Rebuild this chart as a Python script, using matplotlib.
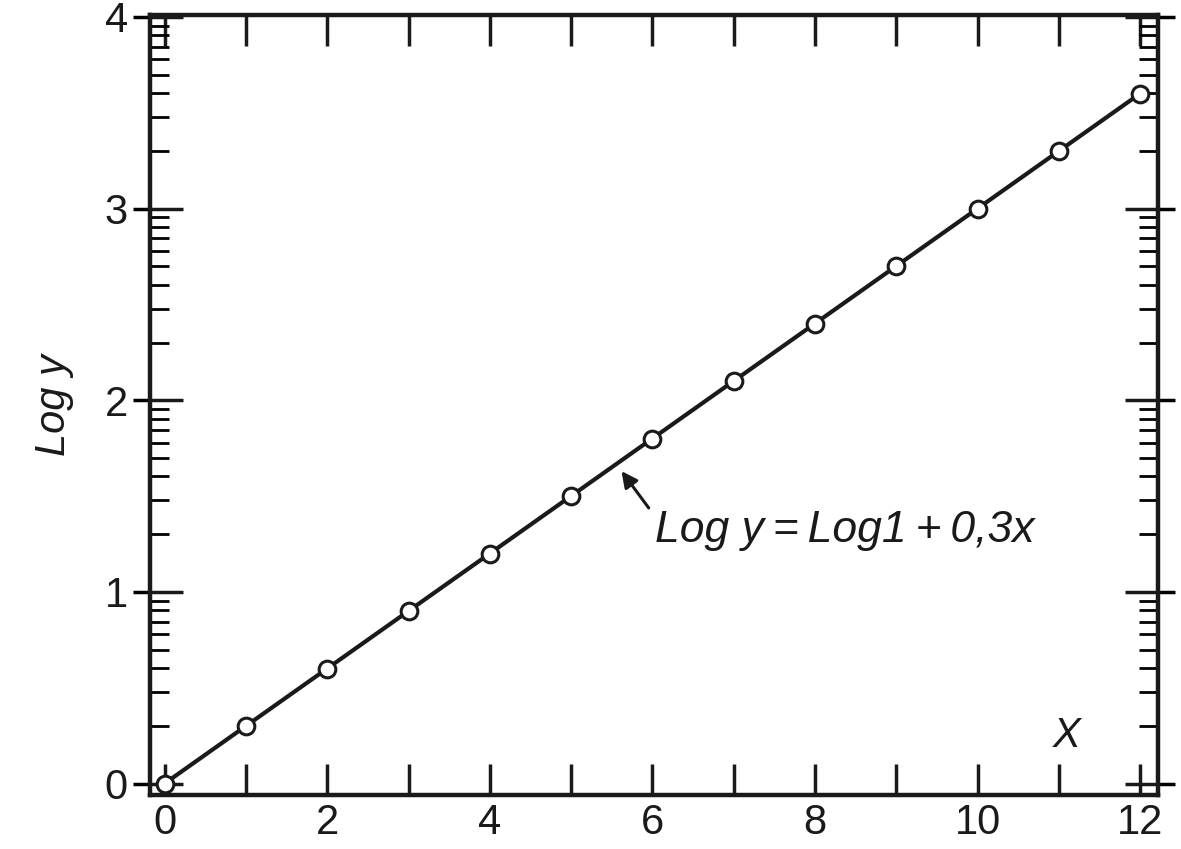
import numpy as np
import matplotlib
matplotlib.use("Agg")
import matplotlib.pyplot as plt
from matplotlib.ticker import FixedLocator, FuncFormatter

plt.rcParams["font.family"] = ["Liberation Sans", "DejaVu Sans"]

# datos
x_vals = [0, 1, 2, 3, 4, 5, 6, 7, 8, 9, 10, 11, 12]
logy_vals = [0.0, 0.3, 0.6, 0.9, 1.2, 1.5, 1.8, 2.1, 2.4, 2.7, 3.0, 3.3, 3.6]
y_ticks = [0, 1, 2, 3, 4]
x_ticks = list(range(13))
ecuacion = "Log y\u2009=\u2009Log1\u2009+\u20090,3x"

fig = plt.figure(figsize=(11.81, 8.49), dpi=100)
ax = fig.add_axes([150 / 1181, 1 - 795 / 849, 1008 / 1181, 780 / 849])

ax.plot(x_vals, logy_vals, color="#1a1a1a", lw=3.0, marker="o", ms=12,
        mfc="white", mec="#1a1a1a", mew=2.2, zorder=3, clip_on=False)

ax.set_xlim(-0.18, 12.22)
ax.set_ylim(-0.06, 4.01)

for s in ax.spines.values():
    s.set_linewidth(3.2)
    s.set_color("#1a1a1a")

# ticks menores logaritmicos en cada decada
menores = [k + np.log10(m) for k in range(4) for m in range(2, 10)]
ax.yaxis.set_major_locator(FixedLocator(y_ticks))
ax.yaxis.set_minor_locator(FixedLocator(menores))
ax.xaxis.set_major_locator(FixedLocator(x_ticks))
ax.xaxis.set_major_formatter(FuncFormatter(lambda v, _p: f"{int(v)}" if int(v) % 2 == 0 else ""))

ax.tick_params(axis="y", which="major", direction="in", length=24, width=2.5,
               left=True, right=True, labelsize=30, pad=16, colors="#1a1a1a")
ax.tick_params(axis="y", which="minor", direction="in", length=14, width=2.0,
               left=True, right=True)
ax.tick_params(axis="x", which="major", direction="in", length=22, width=2.5,
               top=True, bottom=True, labelsize=30, pad=6, colors="#1a1a1a")

for lado in ("left", "right"):
    sec = ax.secondary_yaxis(lado)
    sec.set_yticks(y_ticks)
    sec.tick_params(direction="out", length=12, width=2.5,
                    labelleft=False, labelright=False)
    sec.spines[lado].set_linewidth(0)

ax.annotate(ecuacion, xy=(5.62, 1.63), xytext=(6.03, 1.32),
            fontsize=32, style="italic", color="#1a1a1a", va="center", ha="left",
            arrowprops=dict(arrowstyle="-|>", color="#1a1a1a", lw=2.2,
                            mutation_scale=24, shrinkA=4, shrinkB=0,
                            relpos=(0.0, 0.85)))

ax.text(11.1, 0.25, "X", fontsize=30, style="italic", color="#1a1a1a",
        ha="center", va="center")
ax.set_ylabel("Log y", fontsize=30, style="italic", color="#1a1a1a", labelpad=22)

fig.savefig("out.png", dpi=100)
